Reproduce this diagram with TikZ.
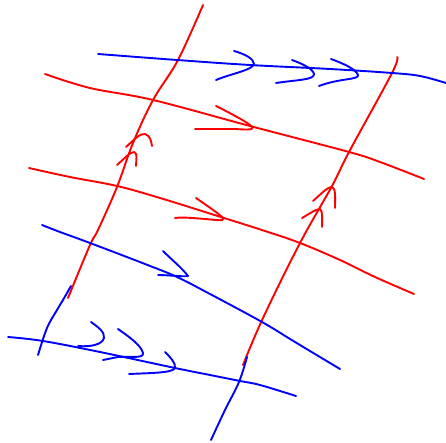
\documentclass[tikz,border=0pt]{standalone}
\usepackage{tikz}
\definecolor{fieldc}{HTML}{FF0000}
\definecolor{flowc}{HTML}{0000FF}
\tikzset{
  stroke/.style={line width=1.9pt,line cap=round,line join=round},
  redln/.style={stroke,draw=fieldc},
  blueln/.style={stroke,draw=flowc},
  sm/.style={smooth,tension=0.6},
}
\begin{document}
\begin{tikzpicture}[x=1pt,y=-1pt]
  \useasboundingbox (0,0) rectangle (446,443);
  % red lines, up the sheet
  \draw[redln] plot[sm] coordinates {(203,5) (178,60) (153,100) (133,143) (117,187) (98,230) (90,245) (68,298)};
  \draw[redln] plot[sm] coordinates {(397,57) (392,73) (349,152) (332,186) (300,243) (263,318) (243,365)};
  % red lines, across
  \draw[redln] plot[sm] coordinates {(45,74) (90,88) (153,100) (250,126) (349,152) (380,162) (424,179)};
  \draw[redln] plot[sm] coordinates {(29,168) (70,177) (117,186) (160,198) (224,218) (265,231) (300,243) (340,260) (375,277) (414,294)};
  % red arrow heads
  \draw[redln] (126,147) .. controls (134,140) and (140,133) .. (145,134) .. controls (150,136) and (151,140) .. (152,146);
  \draw[redln] (117,165) .. controls (124,159) and (130,152) .. (134,152) .. controls (138,153) and (136,160) .. (136,166);
  \draw[redln] (313,201) .. controls (320,195) and (327,187) .. (332,187) .. controls (336,188) and (335,198) .. (335,208);
  \draw[redln] (302,218) .. controls (309,214) and (316,209) .. (320,209) .. controls (323,211) and (322,220) .. (322,227);
  \draw[redln] (216,106) .. controls (230,113) and (245,121) .. (250,125) .. controls (256,130) and (250,130) .. (235,129) -- (195,129);
  \draw[redln] (196,198) .. controls (206,205) and (218,213) .. (222,217) .. controls (226,222) and (218,220) .. (205,219) .. controls (193,218) and (182,217) .. (175,218);
  % blue lines
  \draw[blueln] plot[sm] coordinates {(98,54) (177,60) (250,65) (330,69) (392,73) (420,76) (446,83)};
  \draw[blueln] plot[sm] coordinates {(42,225) (60,232) (90,243) (145,264) (177,277) (210,294) (262,322) (295,342) (340,369)};
  \draw[blueln] plot[sm] coordinates {(8,337) (43,341) (100,352) (175,368) (210,375) (240,381) (260,385) (296,396)};
  \draw[blueln] plot[sm] coordinates {(71,286) (63,300) (57,310) (47,328) (38,355)};
  \draw[blueln] plot[sm] coordinates {(247,357) (239,382) (225,410) (211,440)};
  % blue arrow heads
  \draw[blueln] (234,51) .. controls (245,54) and (254,59) .. (254,64) .. controls (253,70) and (230,74) .. (216,80);
  \draw[blueln] (292,60) .. controls (303,64) and (313,69) .. (314,74) .. controls (315,80) and (295,80) .. (276,83);
  \draw[blueln] (331,59) .. controls (342,63) and (356,69) .. (358,75) .. controls (359,80) and (340,78) .. (319,86);
  \draw[blueln] (91,322) .. controls (98,327) and (105,332) .. (104,338) .. controls (102,345) and (90,347) .. (78,346);
  \draw[blueln] (118,329) .. controls (128,336) and (141,345) .. (143,353) .. controls (144,359) and (130,356) .. (118,357) -- (103,360);
  \draw[blueln] (165,352) .. controls (170,357) and (176,363) .. (175,368) .. controls (173,373) and (150,373) .. (129,374);
  \draw[blueln] (163,251) .. controls (172,260) and (182,268) .. (188,276) .. controls (184,277) and (168,275) .. (158,275);
\end{tikzpicture}
\end{document}
